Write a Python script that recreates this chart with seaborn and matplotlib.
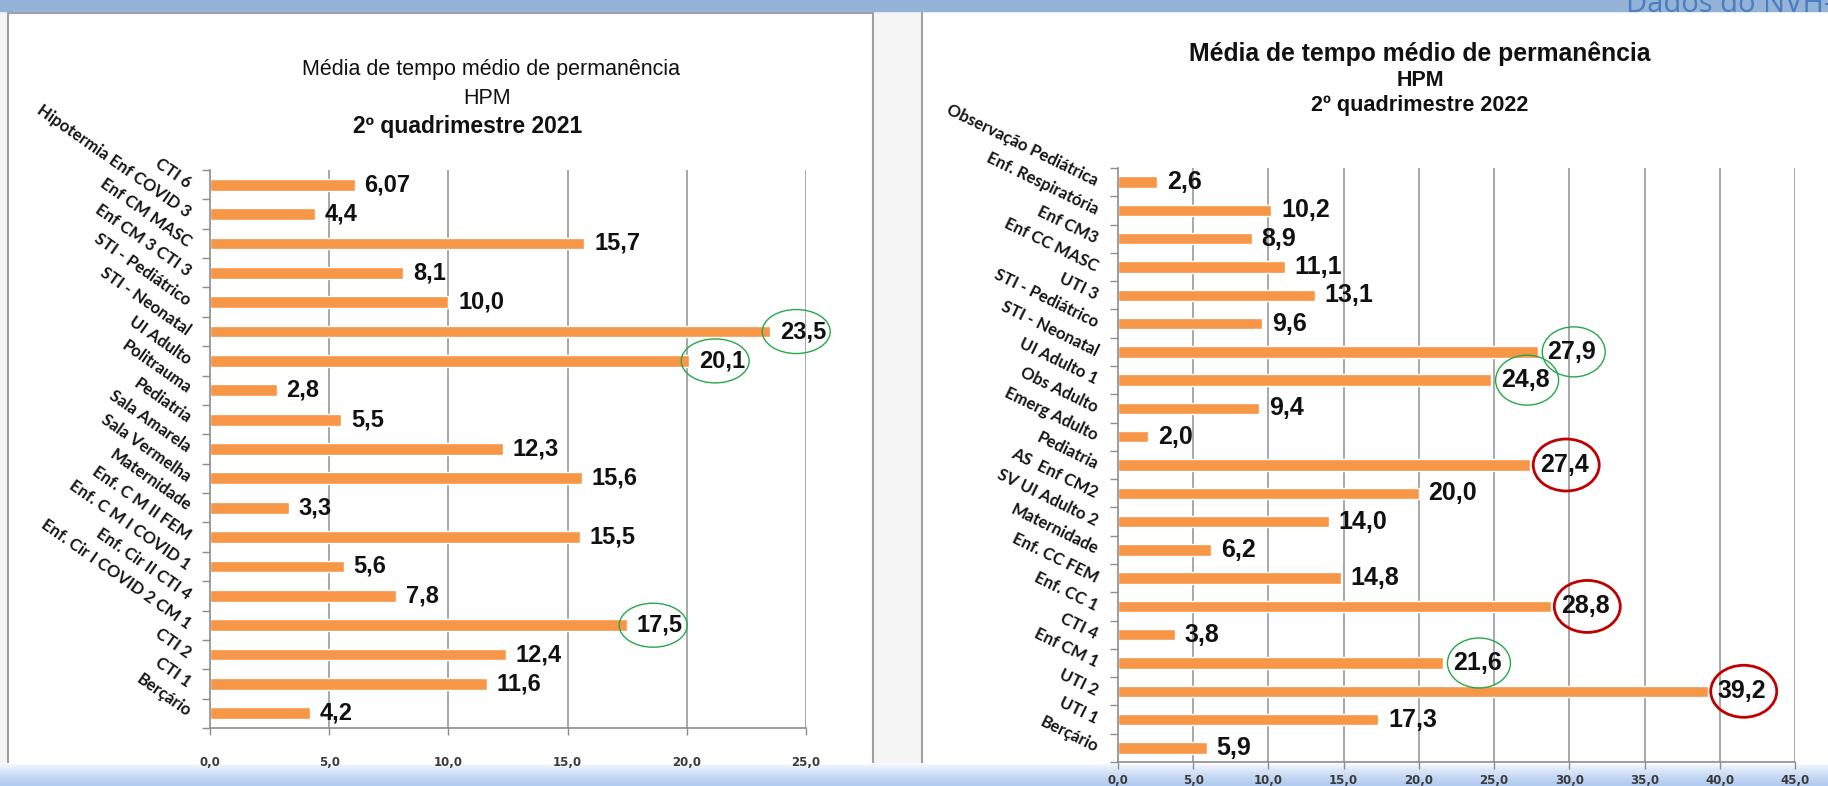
import numpy as np
import matplotlib.pyplot as plt
import pandas as pd
import seaborn as sns
from matplotlib.patches import Rectangle, Ellipse
from matplotlib.colors import LinearSegmentedColormap

# 2o quadrimestre 2021
cats_2021 = [
    "CTI 6", "Hipotermia Enf COVID 3", "Enf CM MASC", "Enf CM 3 CTI 3",
    "STI - Pediátrico", "STI - Neonatal", "UI Adulto", "Politrauma", "Pediatria",
    "Sala Amarela", "Sala Vermelha", "Maternidade", "Enf. C M II FEM",
    "Enf. C M I COVID 1", "Enf. Cir II CTI 4", "Enf. Cir I COVID 2 CM 1",
    "CTI 2", "CTI 1", "Berçário",
]
vals_2021 = [6.07, 4.4, 15.7, 8.1, 10.0, 23.5, 20.1, 2.8, 5.5, 12.3, 15.6, 3.3,
             15.5, 5.6, 7.8, 17.5, 12.4, 11.6, 4.2]
ticks_2021 = [0, 5, 10, 15, 20, 25]
green_2021 = ["STI - Neonatal", "UI Adulto", "Enf. Cir I COVID 2 CM 1"]

# 2o quadrimestre 2022
cats_2022 = [
    "Observação Pediátrica", "Enf. Respiratória", "Enf CM3", "Enf CC MASC", "UTI 3",
    "STI - Pediátrico", "STI - Neonatal", "UI Adulto 1", "Obs Adulto", "Emerg Adulto",
    "Pediatria", "AS  Enf CM2", "SV UI Adulto 2", "Maternidade", "Enf. CC FEM",
    "Enf. CC 1", "CTI 4", "Enf CM 1", "UTI 2", "UTI 1", "Berçário",
]
vals_2022 = [2.6, 10.2, 8.9, 11.1, 13.1, 9.6, 27.9, 24.8, 9.4, 2.0, 27.4, 20.0,
             14.0, 6.2, 14.8, 28.8, 3.8, 21.6, 39.2, 17.3, 5.9]
ticks_2022 = [0, 5, 10, 15, 20, 25, 30, 35, 40, 45]
green_2022 = ["STI - Neonatal", "UI Adulto 1", "Enf CM 1"]
red_2022 = ["Pediatria", "Enf. CC 1", "UTI 2"]

W, H = 1828, 786
BAR = "#F79646"
GRID = "#A8A8A8"
NARROW = ["Liberation Sans Narrow", "Liberation Sans", "DejaVu Sans"]
ARIAL = ["Liberation Sans", "DejaVu Sans"]
CALIBRI = ["Lato", "DejaVu Sans"]

sns.set_theme(style="white")
plt.rcParams["font.family"] = ["DejaVu Sans"]


def fmt(v):
    s = f"{v:.1f}" if round(v, 1) == v else f"{v:.2f}"
    return s.replace(".", ",")


def px_axes(box):
    # box in pixels: left, top, right, bottom
    l, t, r, b = box
    return [l / W, 1 - b / H, (r - l) / W, (b - t) / H]


def draw_chart(box, cats, vals, ticks, label_rot, label_size, value_font, value_size,
               tick_size, tick_pad):
    ax = fig.add_axes(px_axes(box), zorder=3)
    ax.patch.set_alpha(0)
    df = pd.DataFrame({"cat": cats, "val": vals})
    sns.barplot(data=df, x="val", y="cat", orient="h", color=BAR, saturation=1,
                width=0.4, ax=ax)
    n = len(cats)
    ax.set_xlim(ticks[0], ticks[-1])
    ax.set_ylim(n - 0.5, -0.5)
    ax.set_xlabel("")
    ax.set_ylabel("")
    ax.set_xticks(ticks)
    ax.set_xticklabels([fmt(float(t)) for t in ticks], fontsize=tick_size,
                       color="#3A3A3A", fontweight="bold")
    ax.set_yticks(range(n))
    ax.set_yticklabels(cats, rotation=label_rot, ha="right", va="center",
                       rotation_mode="anchor", family=CALIBRI, fontsize=label_size,
                       fontweight="bold", color="#151515")
    ax.set_yticks(np.arange(-0.5, n, 1), minor=True)
    ax.tick_params(axis="y", which="major", length=0, pad=15)
    ax.tick_params(axis="y", which="minor", length=6, width=1, color="#8C8C8C", left=True)
    ax.tick_params(axis="x", which="major", length=5, width=1, color="#8C8C8C",
                   bottom=True, pad=tick_pad)
    for t in ticks[1:]:
        ax.axvline(t, color=GRID, lw=1.4, zorder=0)
    for s in ["top", "right"]:
        ax.spines[s].set_visible(False)
    for s in ["left", "bottom"]:
        ax.spines[s].set_color("#8C8C8C")
        ax.spines[s].set_linewidth(1.2)
    ax.bar_label(ax.containers[0], labels=[fmt(v) for v in vals], padding=7,
                 family=value_font, fontsize=value_size, fontweight="bold",
                 color="#111111")
    return ax


def ring(ax, box, cats, vals, name, ticks, color, lw, dx, w, h):
    l, t, r, b = box
    ppx = (r - l) / (ticks[-1] - ticks[0])
    ppy = (b - t) / len(cats)
    i = cats.index(name)
    v = vals[i]
    ax.add_patch(Ellipse((v + dx / ppx, i), w / ppx, h / ppy, facecolor="none",
                         edgecolor=color, lw=lw, zorder=5, clip_on=False))


fig = plt.figure(figsize=(W / 100, H / 100), dpi=100)

# slide background
bg = fig.add_axes([0, 0, 1, 1], zorder=0)
bg.add_patch(Rectangle((0, 0), W, H, color="#F5F5F5"))
bg.add_patch(Rectangle((8, 13), 865, 790, facecolor="white", edgecolor="#A0A0A0", lw=1.5))
bg.add_patch(Rectangle((922, 11), 940, 790, facecolor="white", edgecolor="#A0A0A0", lw=1.5))
bg.add_patch(Rectangle((0, 0), W, 11, color="#95B3D7"))
band = LinearSegmentedColormap.from_list("band", ["#FFFFFF", "#D6E4F7", "#AFC9EE"])
bg.imshow(np.linspace(0, 1, 60)[:, None] ** 0.7, extent=(0, W, 786, 763), cmap=band,
          aspect="auto", zorder=2)
bg.set_xlim(0, W)
bg.set_ylim(H, 0)
bg.axis("off")
bg.text(1626, 12, "Dados do NVH-HPM", color="#4A7EC2", fontsize=21,
        family=["Open Sans", "DejaVu Sans"], va="baseline", ha="left", zorder=3)

# titles
bg.text(491, 69, "Média de tempo médio de permanência", family=NARROW, fontsize=15.5,
        ha="center", va="center", color="#111111", zorder=3)
bg.text(487, 98, "HPM", family=NARROW, fontsize=15.5, ha="center", va="center",
        color="#111111", zorder=3)
bg.text(468, 126, "2º quadrimestre 2021", family=NARROW, fontsize=16.5, fontweight="bold",
        ha="center", va="center", color="#111111", zorder=3)
bg.text(1420, 54, "Média de tempo médio de permanência", family=ARIAL, fontsize=17.8,
        fontweight="bold", ha="center", va="center", color="#111111", zorder=3)
bg.text(1420, 80, "HPM", family=ARIAL, fontsize=15.5, fontweight="bold", ha="center",
        va="center", color="#111111", zorder=3)
bg.text(1420, 106, "2º quadrimestre 2022", family=ARIAL, fontsize=15.6, fontweight="bold",
        ha="center", va="center", color="#111111", zorder=3)

box_2021 = (210, 170, 806, 728)
box_2022 = (1118, 168, 1795, 762)

ax1 = draw_chart(box_2021, cats_2021, vals_2021, ticks_2021, -35, 12, NARROW, 17,
                 8.5, 15)
ax2 = draw_chart(box_2022, cats_2022, vals_2022, ticks_2022, -26, 12, ARIAL, 18,
                 8.5, 4)

for name in green_2021:
    ring(ax1, box_2021, cats_2021, vals_2021, name, ticks_2021, "#25A84C", 1.0, 26, 68, 44)
for name in green_2022:
    ring(ax2, box_2022, cats_2022, vals_2022, name, ticks_2022, "#25A84C", 1.0, 36, 63, 50)
for name in red_2022:
    ring(ax2, box_2022, cats_2022, vals_2022, name, ticks_2022, "#C00000", 2.0, 36, 66, 52)

fig.savefig("out.png", dpi=100)
